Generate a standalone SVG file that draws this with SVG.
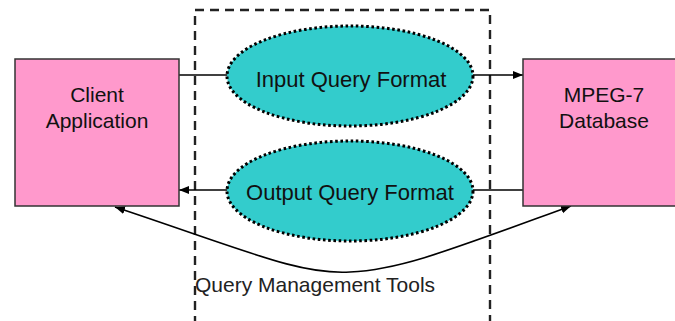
<svg xmlns="http://www.w3.org/2000/svg" width="675" height="321" viewBox="0 0 675 321">
<style>
.box{fill:#FF99CC;stroke:#333;stroke-width:1.5}
.ell{fill:#33CCCC;stroke:#000;stroke-width:3;stroke-dasharray:2.6 2.6}
.lbl{font-family:"Liberation Sans",Arial,sans-serif;font-size:21px;fill:#111;text-anchor:middle}
.conn{fill:none;stroke:#000;stroke-width:1.6}
</style>
<defs>
<marker id="arrL" viewBox="0 0 10 10" refX="10" refY="5" markerWidth="10" markerHeight="10" markerUnits="userSpaceOnUse" orient="auto-start-reverse">
<path d="M0,1 L10,5 L0,9 Z" fill="#000"/>
</marker>
</defs>
<g id="qmt">
<rect x="195" y="10" width="295" height="320" fill="none" stroke="#222" stroke-width="2.4" stroke-dasharray="9 6"/>
<text x="195" y="292" style="font-family:'Liberation Sans',Arial,sans-serif;font-size:21px;fill:#222">Query Management Tools</text>
</g>
<g id="connectors">
<line class="conn" x1="179" y1="75" x2="228" y2="75"/>
<line class="conn" x1="473" y1="75" x2="523" y2="75" marker-end="url(#arrL)"/>
<line class="conn" x1="523" y1="190" x2="473" y2="190"/>
<line class="conn" x1="228" y1="190" x2="179" y2="190" marker-end="url(#arrL)"/>
<path class="conn" d="M115,207 C250,252 300,275 350,272 C400,270 450,250 571,206" marker-start="url(#arrL)" marker-end="url(#arrL)"/>
</g>
<g id="client">
<rect class="box" x="15" y="59" width="164" height="147"/>
<text class="lbl" x="97" y="102">Client</text>
<text class="lbl" x="97" y="128">Application</text>
</g>
<g id="mpeg7">
<rect class="box" x="523" y="59" width="165" height="147"/>
<text class="lbl" x="604" y="102">MPEG-7</text>
<text class="lbl" x="604" y="128">Database</text>
</g>
<g id="input">
<ellipse class="ell" cx="350" cy="76" rx="123" ry="50"/>
<text class="lbl" x="351" y="87" style="font-size:22px">Input Query Format</text>
</g>
<g id="output">
<ellipse class="ell" cx="350" cy="191" rx="123" ry="50"/>
<text class="lbl" x="350" y="200" style="font-size:22px">Output Query Format</text>
</g>
</svg>
